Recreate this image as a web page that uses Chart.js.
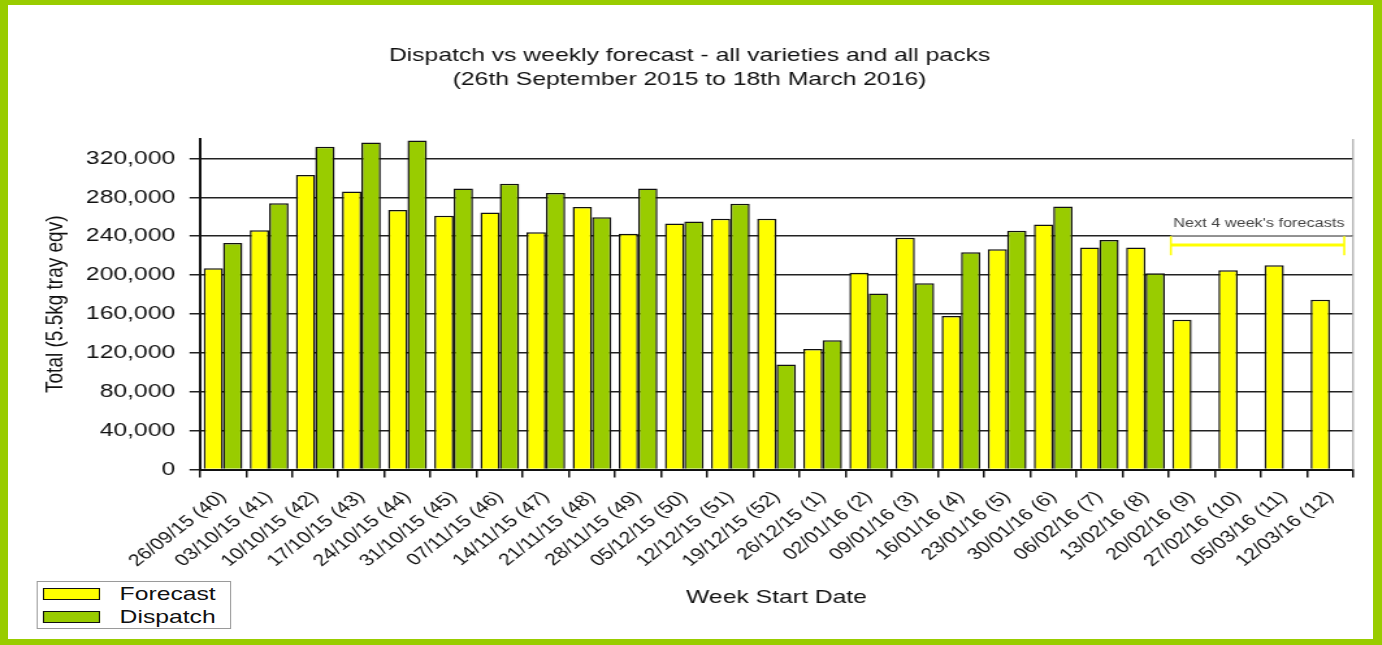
<!DOCTYPE html>
<html>
<head>
<meta charset="utf-8">
<title>Dispatch vs weekly forecast</title>
<script src="https://cdn.jsdelivr.net/npm/chart.js@4.4.1/dist/chart.umd.min.js"></script>
<style>
    html, body { margin: 0; padding: 0; background: #fff; }
    body { width: 1382px; height: 645px; position: relative; overflow: hidden; font-family: "Liberation Sans", Arial, sans-serif; }
    /* the original picture is stretched sideways, so the whole drawing is too */
    #stage { position: absolute; left: 0; top: 0; width: 1063px; height: 645px; transform: scaleX(1.3); transform-origin: 0 0; }
    #chart { display: block; }
    #legend { position: absolute; left: 28px; top: 581px; width: 148px; height: 46px; border: 1px solid #9a9a9a; background: #fff; }
    #legend .row { position: relative; height: 23px; display: flex; align-items: center; }
    #legend .swatch { position: absolute; left: 4px; width: 42px; height: 10px; border: 1.5px solid #111; }
    #legend .text { position: absolute; left: 63px; font-size: 19px; color: #111; }
    #frame { position: absolute; left: 0; top: 0; width: 1382px; height: 645px; box-sizing: border-box;
             border-style: solid; border-color: #99cc00; border-width: 5px 9px 6px 8px; pointer-events: none; }
</style>
</head>
<body>
<div id="stage">
    <canvas id="chart" width="1063" height="645"></canvas>
    <div id="legend"></div>
</div>
<div id="frame"></div>
<script>
const weekLabels = [
    '26/09/15 (40)', '03/10/15 (41)', '10/10/15 (42)', '17/10/15 (43)', '24/10/15 (44)',
    '31/10/15 (45)', '07/11/15 (46)', '14/11/15 (47)', '21/11/15 (48)', '28/11/15 (49)',
    '05/12/15 (50)', '12/12/15 (51)', '19/12/15 (52)', '26/12/15 (1)', '02/01/16 (2)',
    '09/01/16 (3)', '16/01/16 (4)', '23/01/16 (5)', '30/01/16 (6)', '06/02/16 (7)',
    '13/02/16 (8)', '20/02/16 (9)', '27/02/16 (10)', '05/03/16 (11)', '12/03/16 (12)'
];
const forecastValues = [
    207000, 246000, 303000, 286000, 267000, 261000, 264500, 244000, 270000, 242500,
    253000, 258000, 258000, 124000, 202500, 238500, 158000, 226500, 252000, 228500,
    228500, 154000, 205000, 210000, 174500
];
const dispatchValues = [
    233000, 274000, 332000, 336500, 338500, 289000, 294000, 284500, 259500, 289000,
    255000, 273500, 108000, 133000, 181000, 191500, 223500, 245500, 270500, 236000,
    202000, null, null, null, null
];
const yMax = 340000;
const yTickStep = 20000;
const yLabelStep = 40000;

// "Next 4 week's forecasts" marker: first/last week index, bracket values, caption value
const nextWeeks = [21, 24];
const bracketValues = [220500, 231000, 240000];
const captionBand = [240500, 260500];
const captionValue = 253000;
const captionText = "Next 4 week's forecasts";

document.addEventListener('DOMContentLoaded', () => {
    Chart.defaults.font.family = '"Liberation Sans", Arial, sans-serif';
    Chart.defaults.color = '#111';

    const forecastBracket = {
        id: 'forecastBracket',
        afterDatasetsDraw(chart) {
            const { ctx, chartArea, scales: { x, y } } = chart;
            const step = x.getPixelForValue(1) - x.getPixelForValue(0);
            const left = x.getPixelForValue(nextWeeks[0]) - step * 0.45;
            const right = x.getPixelForValue(nextWeeks[1]) + step * 0.31;

            ctx.save();
            // faded box behind the caption
            ctx.fillStyle = 'rgba(255,255,255,0.72)';
            const bandTop = y.getPixelForValue(captionBand[1]);
            const bandBottom = y.getPixelForValue(captionBand[0]);
            ctx.fillRect(left, bandTop, chartArea.right - left - 1, bandBottom - bandTop);

            ctx.fillStyle = '#444';
            ctx.font = '12.5px "Liberation Sans", Arial, sans-serif';
            ctx.textAlign = 'center';
            ctx.textBaseline = 'middle';
            ctx.fillText(captionText, (left + right) / 2 + 1, y.getPixelForValue(captionValue));

            ctx.strokeStyle = '#ffff00';
            ctx.lineWidth = 3;
            const mid = y.getPixelForValue(bracketValues[1]);
            ctx.beginPath();
            ctx.moveTo(left, mid);
            ctx.lineTo(right, mid);
            ctx.stroke();
            ctx.lineWidth = 1.6;
            ctx.beginPath();
            [left, right].forEach(px => {
                ctx.moveTo(px, y.getPixelForValue(bracketValues[0]));
                ctx.lineTo(px, y.getPixelForValue(bracketValues[2]));
            });
            ctx.stroke();

            // light edge on the right of the plot
            ctx.strokeStyle = '#a8a8a8';
            ctx.lineWidth = 1.2;
            ctx.beginPath();
            ctx.moveTo(chartArea.right, chartArea.top);
            ctx.lineTo(chartArea.right, chartArea.bottom);
            ctx.stroke();
            ctx.restore();
        }
    };

    const chart = new Chart(document.getElementById('chart'), {
        type: 'bar',
        data: {
            labels: weekLabels,
            datasets: [
                { label: 'Forecast', data: forecastValues, backgroundColor: '#ffff00', borderColor: '#111', borderWidth: 1.5 },
                { label: 'Dispatch', data: dispatchValues, backgroundColor: '#99cc00', borderColor: '#111', borderWidth: 1.5 }
            ]
        },
        options: {
            responsive: false,
            animation: false,
            events: [],
            layout: { padding: { left: 20, right: 22.2, top: 0, bottom: 0 } },
            datasets: { bar: { categoryPercentage: 0.84, barPercentage: 1 } },
            plugins: {
                legend: { display: false },
                tooltip: { enabled: false },
                title: {
                    display: true,
                    text: ['Dispatch vs weekly forecast - all varieties and all packs', '(26th September 2015 to 18th March 2016)'],
                    font: { size: 19, weight: 'normal', lineHeight: 1.263 },
                    color: '#111',
                    padding: { top: 43.5, bottom: 47.5 }
                }
            },
            scales: {
                x: {
                    grid: { drawOnChartArea: false, color: '#111', lineWidth: 1.5, tickLength: 8 },
                    border: { color: '#111', width: 2 },
                    ticks: { autoSkip: false, minRotation: 45, maxRotation: 45, font: { size: 16.5 }, color: '#111', padding: 10 },
                    title: { display: true, text: 'Week Start Date', font: { size: 19 }, color: '#111', padding: { top: 0, bottom: 36 } },
                    afterFit: scale => { scale.height = 175.5; }
                },
                y: {
                    min: 0,
                    max: yMax,
                    grid: {
                        color: ctx => (ctx.tick && ctx.tick.value === yMax ? '#a8a8a8' : '#222'),
                        lineWidth: 1.5,
                        tickLength: 8
                    },
                    border: { color: '#111', width: 2 },
                    ticks: {
                        stepSize: yTickStep,
                        padding: 11,
                        font: { size: 19 },
                        color: '#111',
                        callback: v => (v % yLabelStep === 0 ? v.toLocaleString('en-US') : '')
                    },
                    title: { display: true, text: 'Total (5.5kg tray eqv)', font: { size: 19 }, color: '#111', padding: { top: 11, bottom: 0 } },
                    afterFit: scale => { scale.width = 133.8; }
                }
            }
        },
        plugins: [forecastBracket]
    });

    const legend = document.getElementById('legend');
    chart.data.datasets.forEach(ds => {
        legend.innerHTML += `
            <div class="row">
                <span class="swatch" style="background:${ds.backgroundColor}"></span>
                <span class="text">${ds.label}</span>
            </div>`;
    });
});
</script>
</body>
</html>
